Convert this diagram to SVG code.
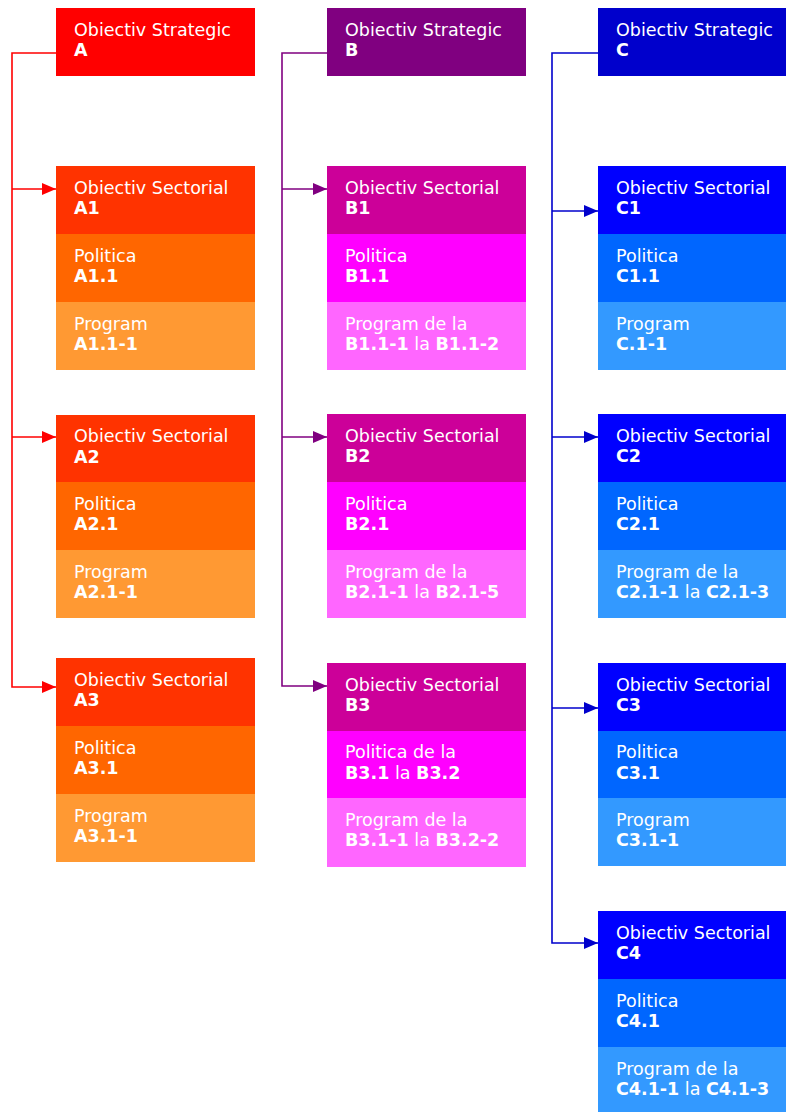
<svg xmlns="http://www.w3.org/2000/svg" width="786" height="1112" viewBox="0 0 786 1112">
<style>
text{font-family:"DejaVu Sans","Verdana",sans-serif;font-size:17.5px;fill:#FFFFFF}
.b{font-weight:bold}
.n{font-weight:normal}
.ca{stroke:#FF0000}
.cb{stroke:#800080}
.cc{stroke:#0000CC}
.conn path{fill:none;stroke-width:1.6}
</style>
<defs>
<marker id="arA" markerUnits="userSpaceOnUse" markerWidth="14" markerHeight="12" refX="14" refY="6" orient="auto"><path d="M0,0 L14,6 L0,12 z" fill="#FF0000"/></marker>
<marker id="arB" markerUnits="userSpaceOnUse" markerWidth="14" markerHeight="12" refX="14" refY="6" orient="auto"><path d="M0,0 L14,6 L0,12 z" fill="#800080"/></marker>
<marker id="arC" markerUnits="userSpaceOnUse" markerWidth="14" markerHeight="12" refX="14" refY="6" orient="auto"><path d="M0,0 L14,6 L0,12 z" fill="#0000CC"/></marker>
</defs>
<rect width="786" height="1112" fill="#FFFFFF"/>
<g id="connectors" class="conn">
<path class="ca" d="M56,53 H12 V687 H56" marker-end="url(#arA)"/>
<path class="ca" d="M12,189 H56" marker-end="url(#arA)"/>
<path class="ca" d="M12,437 H56" marker-end="url(#arA)"/>
<path class="cb" d="M327,53 H282 V686 H327" marker-end="url(#arB)"/>
<path class="cb" d="M282,189 H327" marker-end="url(#arB)"/>
<path class="cb" d="M282,437 H327" marker-end="url(#arB)"/>
<path class="cc" d="M598,53 H552 V943 H598" marker-end="url(#arC)"/>
<path class="cc" d="M552,211 H598" marker-end="url(#arC)"/>
<path class="cc" d="M552,437 H598" marker-end="url(#arC)"/>
<path class="cc" d="M552,708 H598" marker-end="url(#arC)"/>
</g>
<g id="strategicA"><rect x="56" y="8" width="199" height="68" fill="#FF0000"/><text x="74" y="35.5">Obiectiv Strategic</text><text x="74" y="56" class="b">A</text></g>
<g id="strategicB"><rect x="327" y="8" width="199" height="68" fill="#800080"/><text x="345" y="35.5">Obiectiv Strategic</text><text x="345" y="56" class="b">B</text></g>
<g id="strategicC"><rect x="598" y="8" width="188" height="68" fill="#0000CC"/><text x="616" y="35.5">Obiectiv Strategic</text><text x="616" y="56" class="b">C</text></g>

<g id="A1"><rect x="56" y="166" width="199" height="68" fill="#FF3300"/><text x="74" y="193.5">Obiectiv Sectorial</text><text x="74" y="214" class="b">A1</text>
<rect x="56" y="234" width="199" height="68" fill="#FF6600"/><text x="74" y="261.5">Politica</text><text x="74" y="282" class="b">A1.1</text>
<rect x="56" y="302" width="199" height="68" fill="#FF9933"/><text x="74" y="329.5">Program</text><text x="74" y="350" class="b">A1.1-1</text></g>
<g id="A2"><rect x="56" y="415" width="199" height="67" fill="#FF3300"/><text x="74" y="442">Obiectiv Sectorial</text><text x="74" y="463" class="b">A2</text>
<rect x="56" y="482" width="199" height="68" fill="#FF6600"/><text x="74" y="509.5">Politica</text><text x="74" y="530" class="b">A2.1</text>
<rect x="56" y="550" width="199" height="68" fill="#FF9933"/><text x="74" y="577.5">Program</text><text x="74" y="598" class="b">A2.1-1</text></g>
<g id="A3"><rect x="56" y="658" width="199" height="68" fill="#FF3300"/><text x="74" y="685.5">Obiectiv Sectorial</text><text x="74" y="706" class="b">A3</text>
<rect x="56" y="726" width="199" height="68" fill="#FF6600"/><text x="74" y="753.5">Politica</text><text x="74" y="774" class="b">A3.1</text>
<rect x="56" y="794" width="199" height="68" fill="#FF9933"/><text x="74" y="821.5">Program</text><text x="74" y="842" class="b">A3.1-1</text></g>

<g id="B1"><rect x="327" y="166" width="199" height="68" fill="#CC0099"/><text x="345" y="193.5">Obiectiv Sectorial</text><text x="345" y="214" class="b">B1</text>
<rect x="327" y="234" width="199" height="68" fill="#FF00FF"/><text x="345" y="261.5">Politica</text><text x="345" y="282" class="b">B1.1</text>
<rect x="327" y="302" width="199" height="68" fill="#FF66FF"/><text x="345" y="329.5">Program de la</text><text x="345" y="350" class="b">B1.1-1<tspan class="n"> la </tspan>B1.1-2</text></g>
<g id="B2"><rect x="327" y="414" width="199" height="68" fill="#CC0099"/><text x="345" y="441.5">Obiectiv Sectorial</text><text x="345" y="462" class="b">B2</text>
<rect x="327" y="482" width="199" height="68" fill="#FF00FF"/><text x="345" y="509.5">Politica</text><text x="345" y="530" class="b">B2.1</text>
<rect x="327" y="550" width="199" height="68" fill="#FF66FF"/><text x="345" y="577.5">Program de la</text><text x="345" y="598" class="b">B2.1-1<tspan class="n"> la </tspan>B2.1-5</text></g>
<g id="B3"><rect x="327" y="663" width="199" height="68" fill="#CC0099"/><text x="345" y="690.5">Obiectiv Sectorial</text><text x="345" y="711" class="b">B3</text>
<rect x="327" y="731" width="199" height="67" fill="#FF00FF"/><text x="345" y="758">Politica de la</text><text x="345" y="779" class="b">B3.1<tspan class="n"> la </tspan>B3.2</text>
<rect x="327" y="798" width="199" height="69" fill="#FF66FF"/><text x="345" y="825.5">Program de la</text><text x="345" y="846" class="b">B3.1-1<tspan class="n"> la </tspan>B3.2-2</text></g>

<g id="C1"><rect x="598" y="166" width="188" height="68" fill="#0000FF"/><text x="616" y="193.5">Obiectiv Sectorial</text><text x="616" y="214" class="b">C1</text>
<rect x="598" y="234" width="188" height="68" fill="#0066FF"/><text x="616" y="261.5">Politica</text><text x="616" y="282" class="b">C1.1</text>
<rect x="598" y="302" width="188" height="68" fill="#3399FF"/><text x="616" y="329.5">Program</text><text x="616" y="350" class="b">C.1-1</text></g>
<g id="C2"><rect x="598" y="414" width="188" height="68" fill="#0000FF"/><text x="616" y="441.5">Obiectiv Sectorial</text><text x="616" y="462" class="b">C2</text>
<rect x="598" y="482" width="188" height="68" fill="#0066FF"/><text x="616" y="509.5">Politica</text><text x="616" y="530" class="b">C2.1</text>
<rect x="598" y="550" width="188" height="68" fill="#3399FF"/><text x="616" y="577.5">Program de la</text><text x="616" y="598" class="b">C2.1-1<tspan class="n"> la </tspan>C2.1-3</text></g>
<g id="C3"><rect x="598" y="663" width="188" height="68" fill="#0000FF"/><text x="616" y="690.5">Obiectiv Sectorial</text><text x="616" y="711" class="b">C3</text>
<rect x="598" y="731" width="188" height="67" fill="#0066FF"/><text x="616" y="758">Politica</text><text x="616" y="779" class="b">C3.1</text>
<rect x="598" y="798" width="188" height="68" fill="#3399FF"/><text x="616" y="825.5">Program</text><text x="616" y="846" class="b">C3.1-1</text></g>
<g id="C4"><rect x="598" y="911" width="188" height="68" fill="#0000FF"/><text x="616" y="938.5">Obiectiv Sectorial</text><text x="616" y="959" class="b">C4</text>
<rect x="598" y="979" width="188" height="68" fill="#0066FF"/><text x="616" y="1006.5">Politica</text><text x="616" y="1027" class="b">C4.1</text>
<rect x="598" y="1047" width="188" height="68" fill="#3399FF"/><text x="616" y="1074.5">Program de la</text><text x="616" y="1095" class="b">C4.1-1<tspan class="n"> la </tspan>C4.1-3</text></g>
</svg>
